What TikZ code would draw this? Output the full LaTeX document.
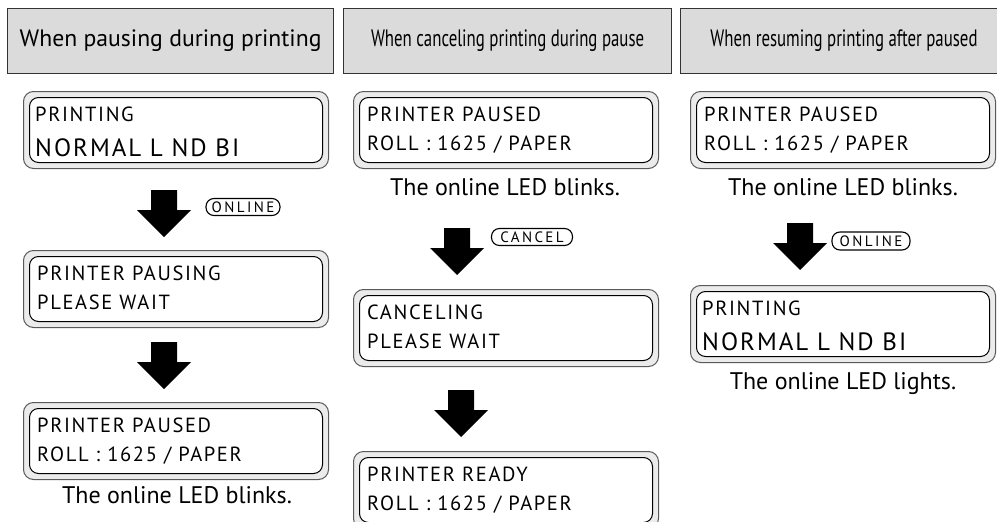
\documentclass[tikz,border=0pt]{standalone}
\usepackage{fontspec}
\setmainfont{PT Sans}
\newfontfamily\lcdfont[LetterSpace=8]{PT Sans}
\newfontfamily\btnfont[LetterSpace=16]{PT Sans}
\begin{document}
\begin{tikzpicture}[x=1pt,y=-1pt,
  hdr/.style={draw=black!80, fill=black!14, line width=1.2pt, inner sep=0pt},
  hdrtxt/.style={font=\fontsize{23.7}{26}\selectfont},
  lcdout/.style={draw=black!65, fill=black!8, rounded corners=10pt, line width=1pt, inner sep=0pt},
  lcdin/.style={draw=black, fill=white, rounded corners=9pt, line width=1pt, inner sep=0pt},
  lcdtxt/.style={anchor=base west, inner sep=0pt, font=\lcdfont\fontsize{20.5}{20}\selectfont},
  lcdbig/.style={anchor=base west, inner sep=0pt, font=\lcdfont\fontsize{25}{26}\selectfont},
  btn/.style={draw=black, line width=1.1pt, rounded corners=8pt, inner sep=0pt, font=\btnfont\fontsize{15}{15}\selectfont},
  capt/.style={inner sep=0pt, anchor=base, font=\fontsize{24}{26}\selectfont},
]
\newcommand\lcdbox[5]{%
  \node[lcdout, anchor=north west, minimum width=305pt, minimum height=77pt] (#1) at (#2,#3) {};
  \node[lcdin, minimum width=293pt, minimum height=65pt] (#1in) at (#1.center) {};
  \node[lcdtxt] (#1a) at ([xshift=#5pt,yshift=-30pt]#1.north west) {#4};
}
\newcommand\darr[3]{%
  \coordinate (#1) at (#2,#3);
  \fill (#1) ++(-13,0) -- ++(26,0) -- ++(0,20) -- ++(14,0) -- ++(-27,27) -- ++(-27,-27) -- ++(14,0) -- cycle;
}
\useasboundingbox (0,0) rectangle (997,522);
\clip (0,0) rectangle (997,522);
\fill[white] (0,0) rectangle (997,522);

% headers
\node[hdr, anchor=north west, minimum width=326pt, minimum height=65pt] (h1) at (7,8) {};
\node[hdrtxt] (h1t) at (h1.center) {When pausing during printing};
\node[hdr, anchor=north west, minimum width=328pt, minimum height=65pt] (h2) at (343,8) {};
\node[hdrtxt] (h2t) at (h2.center) {\scalebox{0.71}[1]{When canceling printing during pause}};
\node[hdr, anchor=north west, minimum width=330pt, minimum height=65pt] (h3) at (680,8) {};
\node[hdrtxt] (h3t) at (844,40.5) {\scalebox{0.71}[1]{When resuming printing after paused}};

% column 1
\lcdbox{c1a}{23}{91}{PRINTING}{12}
\node[lcdbig] (c1ab) at ([xshift=12pt,yshift=-65pt]c1a.north west) {NORMAL L ND BI};
\darr{c1d1}{164}{190}
\node[btn, minimum width=74pt, minimum height=17pt] (b1) at (243,207) {ONLINE};
\lcdbox{c1b}{23}{250}{PRINTER PAUSING}{14}
\node[lcdtxt] (c1bb) at ([xshift=14pt,yshift=-59pt]c1b.north west) {PLEASE WAIT};
\darr{c1d2}{164}{342}
\lcdbox{c1c}{23}{402}{PRINTER PAUSED}{14}
\node[lcdtxt] (c1cb) at ([xshift=14pt,yshift=-59pt]c1c.north west) {ROLL : 1625 / PAPER};
\node[capt] (c1cap) at (177,503) {The online LED blinks.};

% column 2
\lcdbox{c2a}{353}{91}{PRINTER PAUSED}{14}
\node[lcdtxt] (c2ab) at ([xshift=14pt,yshift=-59pt]c2a.north west) {ROLL : 1625 / PAPER};
\node[capt] (c2cap) at (505,195) {The online LED blinks.};
\darr{c2d1}{457}{228}
\node[btn, minimum width=81pt, minimum height=17pt] (b2) at (532,237) {CANCEL};
\lcdbox{c2b}{353}{289}{CANCELING}{14}
\node[lcdtxt] (c2bb) at ([xshift=14pt,yshift=-59pt]c2b.north west) {PLEASE WAIT};
\darr{c2d2}{461}{390}
\lcdbox{c2c}{353}{451}{PRINTER READY}{14}
\node[lcdtxt] (c2cb) at ([xshift=14pt,yshift=-59pt]c2c.north west) {ROLL : 1625 / PAPER};

% column 3
\lcdbox{c3a}{690}{91}{PRINTER PAUSED}{14}
\node[lcdtxt] (c3ab) at ([xshift=14pt,yshift=-59pt]c3a.north west) {ROLL : 1625 / PAPER};
\node[capt] (c3cap) at (843,195) {The online LED blinks.};
\darr{c3d1}{800}{223}
\node[btn, minimum width=78pt, minimum height=18pt] (b3) at (871,241) {ONLINE};
\lcdbox{c3b}{690}{285}{PRINTING}{12}
\node[lcdbig] (c3bb) at ([xshift=12pt,yshift=-65pt]c3b.north west) {NORMAL L ND BI};
\node[capt] (c3cap2) at (843,389) {The online LED lights.};
\end{tikzpicture}
\end{document}
